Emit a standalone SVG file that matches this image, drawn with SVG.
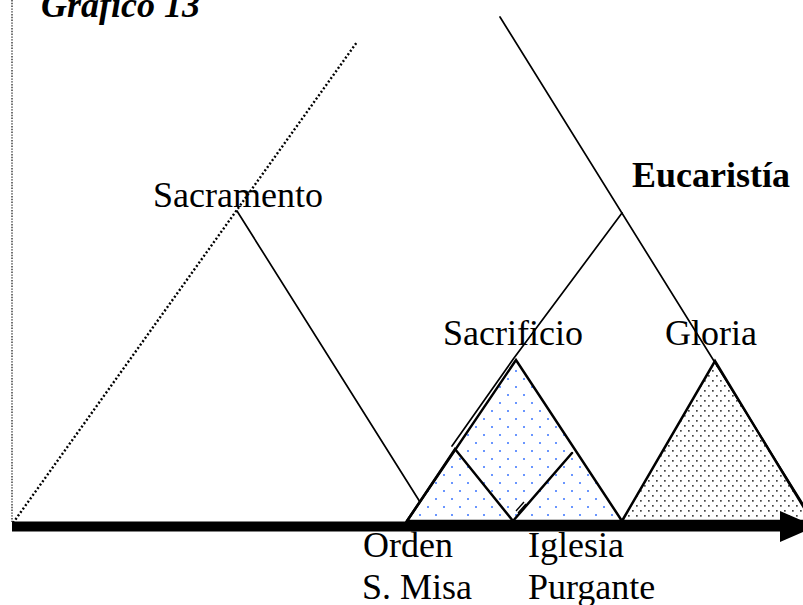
<svg xmlns="http://www.w3.org/2000/svg" width="803" height="605" viewBox="0 0 803 605">
<defs>
  <pattern id="blueDots" x="3" y="2" width="16" height="16" patternUnits="userSpaceOnUse">
    <rect x="0" y="0" width="2" height="2" fill="#6a96ff"/>
    <rect x="8" y="8" width="2" height="2" fill="#6a96ff"/>
  </pattern>
  <pattern id="grayDots" x="0" y="0" width="8" height="10" patternUnits="userSpaceOnUse">
    <rect x="0" y="0" width="1.7" height="1.7" fill="#444"/>
    <rect x="4" y="5" width="1.7" height="1.7" fill="#444"/>
  </pattern>
</defs>
<style>
  .lbl { font-family: "Liberation Serif", "Times New Roman", serif; font-size: 36px; fill: #000; }
  .bold { font-weight: bold; }
  .title { font-weight: bold; font-style: italic; }
  .thin { stroke: #000; stroke-width: 1.7; fill: none; stroke-linecap: round; stroke-linejoin: round; }
  .thick { stroke: #000; stroke-width: 2.5; stroke-linejoin: miter; stroke-linecap: round; }
  .dotted { stroke: #000; stroke-width: 2.4; stroke-dasharray: 2 2.2; fill: none; }
  .vdots { stroke: #333; stroke-width: 1.4; stroke-dasharray: 1.4 1.4; fill: none; }
</style>
<rect width="803" height="605" fill="#fff"/>

<g id="title">
  <text class="lbl title" x="41" y="17">Grafico 13</text>
</g>

<g id="frame">
  <line class="vdots" x1="12" y1="0" x2="12" y2="522"/>
  <line class="dotted" x1="13" y1="523" x2="357" y2="42"/>
</g>

<g id="gloria">
  <polygon points="622,521 715,361 812,521" fill="url(#grayDots)" class="thick"/>
  <text class="lbl" x="665" y="345">Gloria</text>
</g>

<g id="sacrificio">
  <polygon points="407,521 516,360 622,521" fill="url(#blueDots)" class="thick"/>
  <text class="lbl" x="443" y="345">Sacrificio</text>
</g>

<g id="orden">
  <polyline points="407,521 455,449 513,521" fill="none" class="thick"/>
  <text class="lbl" x="363" y="557">Orden</text>
  <text class="lbl" x="362" y="599">S. Misa</text>
</g>

<g id="iglesia">
  <line class="thick" x1="513" y1="521" x2="572" y2="453"/>
  <line x1="516" y1="511" x2="524" y2="502" stroke="#000" stroke-width="1.4"/>
  <line x1="518" y1="513" x2="526" y2="504" stroke="#000" stroke-width="1.4"/>
  <text class="lbl" x="528" y="557">Iglesia</text>
  <text class="lbl" x="528" y="599">Purgante</text>
</g>

<g id="sacramento">
  <text class="lbl" x="153" y="207">Sacramento</text>
</g>

<g id="eucaristia">
  <text class="lbl bold" x="632" y="187">Eucaristía</text>
</g>

<g id="connectors">
  <line class="thin" x1="237" y1="211" x2="420" y2="502"/>
  <line class="thin" x1="500" y1="17" x2="806" y2="509"/>
  <polyline class="thin" points="622,213 514,358 452,446"/>
</g>

<g id="axis">
  <rect x="12" y="521.5" width="770" height="10" fill="#000"/>
  <polygon points="780,511 780,542 816,526.5" fill="#000"/>
</g>
</svg>
